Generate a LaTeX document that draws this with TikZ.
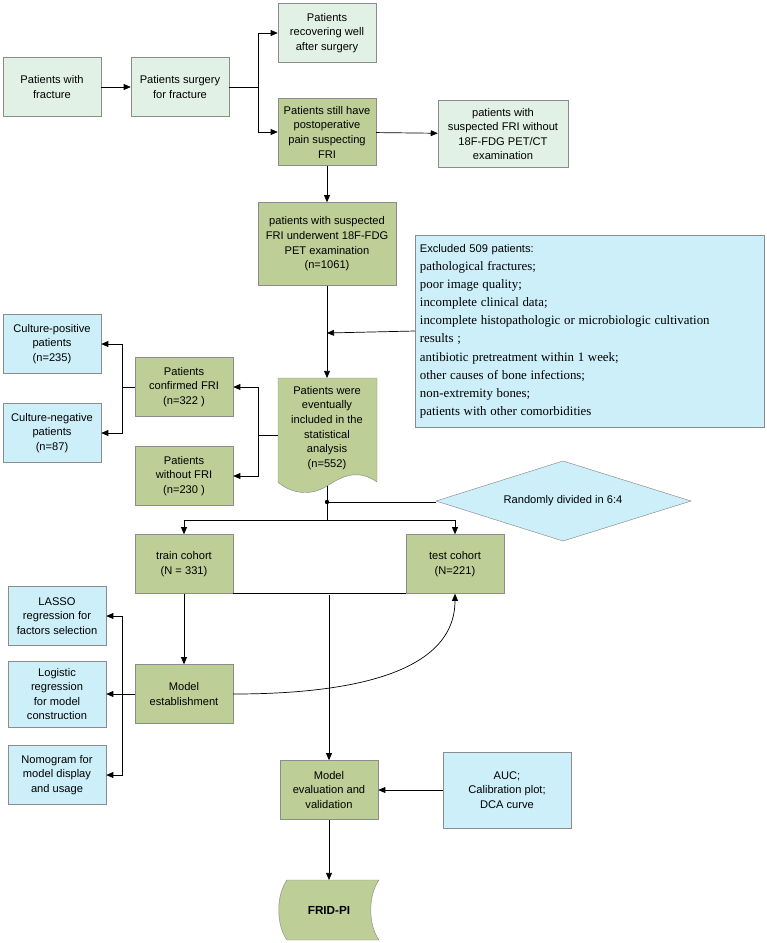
\documentclass[tikz,border=0pt]{standalone}
\usepackage{fontspec}
\setmainfont{Liberation Sans}
\newfontfamily\exclfont{Liberation Serif}
\usetikzlibrary{arrows.meta}
\definecolor{palegreen}{HTML}{E1F1E6}
\definecolor{olive}{HTML}{BDCE96}
\definecolor{paleblue}{HTML}{CDEFFA}
\definecolor{edgegray}{HTML}{8C8C8C}

\begin{document}
\begin{tikzpicture}[
    x=0.03cm, y=-0.03cm,
    font=\fontsize{9.5}{12.5}\selectfont,
    box/.style={draw=edgegray, align=center, inner sep=1pt, minimum width=2.94cm, minimum height=1.77cm},
    lightbox/.style={box, fill=palegreen},
    darkbox/.style={box, fill=olive},
    bluebox/.style={box, fill=paleblue},
    conn/.style={-{Triangle[length=6pt,width=5pt]}, semithick},
    link/.style={semithick}
    ]
    \useasboundingbox (0,0) rectangle (767,943);

    % top row
    \node [lightbox] (frac) at (52,87) {Patients with\\fracture};
    \node [lightbox] (surg) at (180,87) {Patients surgery\\for fracture};
    \node [lightbox] (recov) at (327,33) {Patients\\recovering well\\after surgery};
    \node [darkbox, minimum height=2.01cm] (pain) at (327,132) {Patients still have\\postoperative\\pain suspecting\\FRI};
    \node [lightbox, minimum width=3.9cm, minimum height=2.01cm] (nopet) at (503,134) {patients with\\suspected FRI without\\18F-FDG PET/CT\\examination};
    \node [darkbox, minimum width=4.14cm, minimum height=2.49cm] (pet) at (327,244) {patients with suspected\\FRI underwent 18F-FDG\\PET examination\\(n=1061)};
    \node [bluebox, text width=10.2cm, minimum height=5.76cm, align=left, anchor=north west, inner sep=4pt] (excl) at (415,235)
        {Excluded 509 patients:\par\exclfont\fontsize{11}{15.5}\selectfont
        pathological fractures;\par
        poor image quality;\par
        incomplete clinical data;\par
        incomplete histopathologic or microbiologic cultivation\par
        results ;\par
        antibiotic pretreatment within 1 week;\par
        other causes of bone infections;\par
        non-extremity bones;\par
        patients with other comorbidities\par\vspace{22pt}};

    % included (document shape)
    \draw [draw=edgegray, fill=olive] (278,378) -- (377,378) -- (377,482)
        .. controls (360,470) and (345,474) .. (327,486)
        .. controls (310,497) and (290,493) .. (278,482) -- cycle;
    \node [align=center] (incl) at (327,428) {Patients were\\eventually\\included in the\\statistical\\analysis\\(n=552)};
    \coordinate (inclbot) at (327,486);
    \coordinate (incltop) at (327,378);
    \coordinate (inclleft) at (278,435);

    \node [darkbox] (conf) at (184,387) {Patients\\confirmed FRI\\(n=322 )};
    \node [darkbox] (nofri) at (184,476) {Patients\\without FRI\\(n=230 )};
    \node [bluebox] (cpos) at (52,344) {Culture-positive\\patients\\(n=235)};
    \node [bluebox] (cneg) at (52,433) {Culture-negative\\patients\\(n=87)};

    \draw [draw=edgegray, fill=paleblue] (436,501) -- (563,461) -- (691,501) -- (563,541) -- cycle;
    \node (rand) at (563,501) {Randomly divided in 6:4};
    \coordinate (randleft) at (436,502);
    \coordinate (dot) at (327,502);
    \coordinate (split) at (327,520);

    \node [darkbox] (train) at (184,564) {train cohort\\(N = 331)};
    \node [darkbox] (test) at (455,564) {test cohort\\(N=221)};
    \node [darkbox] (estab) at (184,694) {Model\\establishment};
    \node [bluebox] (lasso) at (57,616) {LASSO\\regression for\\factors selection};
    \node [bluebox, minimum height=1.98cm] (logit) at (57,694) {Logistic\\regression\\for model\\construction};
    \node [bluebox] (nomo) at (57,775) {Nomogram for\\model display\\and usage};
    \node [darkbox] (eval) at (329,790) {Model\\evaluation and\\validation};
    \node [bluebox, minimum width=3.84cm, minimum height=2.28cm] (auc) at (507,790) {AUC;\\Calibration plot;\\DCA curve};
    \coordinate (mid) at (329,595);

    % FRID-PI (stored data shape)
    \draw [draw=edgegray, fill=olive] (287,880) -- (379,880)
        .. controls (368,895) and (368,925) .. (379,940) -- (287,940)
        .. controls (276,925) and (276,895) .. (287,880) -- cycle;
    \node [font=\bfseries\fontsize{10}{12}\selectfont] (frid) at (329,910) {FRID-PI};
    \coordinate (fridtop) at (329,880);

    % connectors
    \draw [conn] (frac) -- (surg);
    \draw [link] (surg.east) -- (258,87);
    \draw [conn] (258,87) |- (recov.west);
    \draw [conn] (258,87) |- (pain.west);
    \draw [conn] (pain) -- (nopet);
    \draw [conn] (pain) -- (pet);
    \draw [conn] (pet) -- (incltop);
    \draw [conn] (excl.west |- 0,331) -- (327,333);
    \draw [link] (inclleft) -- (258,435);
    \draw [conn] (258,435) |- (conf.east);
    \draw [conn] (258,435) |- (nofri.east);
    \draw [link] (conf.west) -- (122,387);
    \draw [conn] (122,387) |- (cpos.east);
    \draw [conn] (122,387) |- (cneg.east);
    \draw [link] (inclbot) -- (split);
    \fill (dot) circle (2.2);
    \draw [link] (dot) -- (randleft);
    \draw [conn] (split) -| (train.north);
    \draw [conn] (split) -| (test.north);
    \draw [link] (train.south east) -- (test.south west);
    \draw [conn] (train) -- (estab);
    \draw [conn] (estab.east) .. controls (330,694) and (455,680) .. (test.south);
    \draw [-{Triangle[length=6pt,width=5pt]}, thick] (mid) -- (eval.north);
    \draw [conn] (estab) -- (logit);
    \draw [conn] (122,694) |- (lasso.east);
    \draw [conn] (122,694) |- (nomo.east);
    \draw [conn] (auc) -- (eval);
    \draw [conn] (eval) -- (fridtop);
\end{tikzpicture}
\end{document}
